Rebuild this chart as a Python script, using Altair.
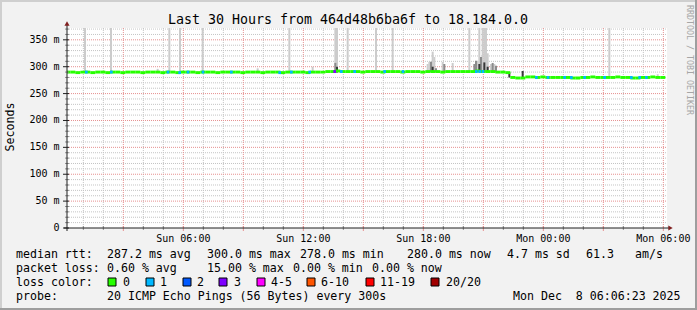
import altair as alt
import pandas as pd

# ----------------------------- data -----------------------------
TITLE = "Last 30 Hours from 464d48b6ba6f to 18.184.0.0"
Y_TITLE = "Seconds"
WATERMARK = "RRDTOOL / TOBI OETIKER"

# median RTT (ms), one value per 15-minute step; first step ends Sun 00:21, last ends Mon 06:06
median_ms = [
    290, 290, 289, 290, 290, 289, 290, 290, 289, 290,
    290, 289, 290, 290, 290, 289, 290, 290, 290, 289,
    290, 290, 289, 290, 290, 290, 289, 290, 290, 290,
    289, 290, 290, 290, 290, 289, 290, 290, 290, 289,
    290, 290, 290, 289, 290, 290, 290, 290, 289, 290,
    290, 290, 291, 291, 292, 291, 291, 291, 291, 290,
    291, 291, 291, 290, 291, 291, 291, 290, 291, 291,
    291, 290, 291, 291, 291, 290, 291, 291, 291, 291,
    291, 291, 292, 291, 291, 291, 290, 290, 289,
    280, 279, 279, 281, 281, 280, 281, 280, 280, 280,
    280, 280, 279, 279, 280, 280, 281, 280, 280, 280,
    280, 281, 280, 280, 279, 279, 280, 280, 281, 280, 280,
]

# 5-minute samples that lost pings: time, median at that moment (ms), pings lost of 20
loss_time = [
    "2025-12-07T01:05", "2025-12-07T02:20", "2025-12-07T05:10", "2025-12-07T05:45", "2025-12-07T06:10",
    "2025-12-07T06:55", "2025-12-07T08:20", "2025-12-07T10:45", "2025-12-07T11:20", "2025-12-07T12:15",
    "2025-12-07T13:30", "2025-12-07T13:50", "2025-12-07T14:30", "2025-12-07T16:00", "2025-12-07T16:55",
    "2025-12-07T20:35", "2025-12-07T20:45", "2025-12-07T20:55", "2025-12-07T23:35", "2025-12-08T00:10",
    "2025-12-08T01:00", "2025-12-08T01:20", "2025-12-08T02:00", "2025-12-08T03:00", "2025-12-08T04:20",
    "2025-12-08T04:45", "2025-12-08T05:05",
]
loss_ms = [
    290, 290, 290, 289, 290, 290, 290, 289, 290, 290,
    291, 291, 291, 291, 291, 291, 291, 291, 280, 280,
    280, 280, 280, 280, 280, 280, 280,
]
loss_pings = [
    1, 1, 1, 1, 1, 1, 1, 1, 1, 1,
    3, 1, 1, 1, 1, 1, 1, 1, 1, 1,
    1, 1, 1, 1, 1, 1, 1,
]

# smoke (spread of the 20 pings): time, low ms, high ms, density level (1 light .. 3 dark)
smoke_time = [
    "2025-12-07T01:02", "2025-12-07T02:20", "2025-12-07T04:40", "2025-12-07T05:15", "2025-12-07T05:47",
    "2025-12-07T06:55", "2025-12-07T09:40", "2025-12-07T11:15", "2025-12-07T12:25", "2025-12-07T13:33",
    "2025-12-07T13:38", "2025-12-07T13:33", "2025-12-07T13:38", "2025-12-07T14:10", "2025-12-07T15:35",
    "2025-12-07T16:25", "2025-12-07T18:10", "2025-12-07T18:15", "2025-12-07T18:20", "2025-12-07T18:25",
    "2025-12-07T18:25", "2025-12-07T18:30", "2025-12-07T18:35", "2025-12-07T18:55", "2025-12-07T19:00",
    "2025-12-07T19:25", "2025-12-07T20:15", "2025-12-07T20:30", "2025-12-07T20:35", "2025-12-07T20:40",
    "2025-12-07T20:45", "2025-12-07T20:45", "2025-12-07T20:50", "2025-12-07T20:55", "2025-12-07T21:00",
    "2025-12-07T21:00", "2025-12-07T21:05", "2025-12-07T21:10", "2025-12-07T21:10", "2025-12-07T21:20",
    "2025-12-07T21:25", "2025-12-07T21:30", "2025-12-07T21:35", "2025-12-07T22:15", "2025-12-07T22:55",
    "2025-12-08T03:15", "2025-12-08T05:40",
]
smoke_lo = [
    289, 289, 289, 289, 289, 289, 289, 289, 289, 289,
    289, 289, 289, 289, 290, 290, 290, 290, 290, 290,
    290, 290, 290, 290, 290, 290, 290, 290, 290, 290,
    290, 290, 290, 290, 290, 290, 290, 290, 290, 290,
    290, 290, 290, 280, 279, 280, 280,
]
smoke_hi = [
    372, 372, 296, 372, 372, 372, 297, 372, 300, 372,
    372, 307, 300, 372, 372, 372, 305, 309, 309, 328,
    300, 318, 297, 309, 305, 307, 372, 305, 311, 311,
    372, 305, 318, 372, 372, 308, 372, 325, 300, 305,
    307, 305, 302, 290, 292, 372, 286,
]
smoke_level = [
    1, 1, 1, 1, 1, 1, 1, 1, 1, 1,
    1, 2, 3, 1, 1, 1, 1, 1, 2, 1,
    3, 1, 2, 1, 2, 1, 1, 2, 2, 1,
    1, 3, 2, 1, 1, 3, 1, 1, 3, 1,
    2, 1, 2, 3, 3, 1, 1,
]

loss_labels = ["0", "1", "2", "3", "4-5", "6-10", "11-19", "20/20"]
y_label_values = [0, 50, 100, 150, 200, 250, 300, 350]
x_label_times = ["2025-12-07T06:00", "2025-12-07T12:00", "2025-12-07T18:00", "2025-12-08T00:00", "2025-12-08T06:00"]
x_label_texts = ["Sun 06:00", "Sun 12:00", "Sun 18:00", "Mon 00:00", "Mon 06:00"]

rtt_label = "median rtt:"
rtt_stats = ["287.2 ms avg", "300.0 ms max", "278.0 ms min", "280.0 ms now", "4.7 ms sd", "61.3", "am/s"]
loss_label = "packet loss:"
loss_stats = ["0.60 % avg", "15.00 % max", "0.00 % min", "0.00 % now"]
color_label = "loss color:"
probe_label = "probe:"
probe_text = "20 ICMP Echo Pings (56 Bytes) every 300s"
stamp_text = "Mon Dec\u00a0 8 06:06:23 2025"

# ----------------------------- style -----------------------------
MONO = "DejaVu Sans Mono"
LOSS_COLORS = ["#26ff00", "#00b8ff", "#0059ff", "#7e00ff", "#ff00ff", "#ff5500", "#ff0000", "#a10000"]
SMOKE_COLORS = {1: "#cccccc", 2: "#8c8c8c", 3: "#383838"}
GRID = "#c4c4c4"
MGRID = "#e69090"
AXIS = "#1f1f1f"
ARROW = "#801f1f"
BACK = "#f2f2f2"

PX, PY = 67, 28      # plot origin inside the page
W, H = 600, 200
HALF = 2.7           # half thickness of the median line, in ms


def iso(t):
    return pd.Timestamp(t).strftime("%Y-%m-%dT%H:%M:%SZ")


def loss_cat(n):
    if n <= 3:
        return str(n)
    if n <= 5:
        return "4-5"
    if n <= 10:
        return "6-10"
    if n < 20:
        return "11-19"
    return "20/20"


step0 = pd.Timestamp("2025-12-07 00:06")
med = pd.DataFrame({
    "t0": [iso(step0 + pd.Timedelta(minutes=15 * k)) for k in range(len(median_ms))],
    "t1": [iso(step0 + pd.Timedelta(minutes=15 * (k + 1))) for k in range(len(median_ms))],
    "m": median_ms,
    "loss": ["0"] * len(median_ms),
})
lossdf = pd.DataFrame({
    "t0": [iso(t) for t in loss_time],
    "t1": [iso(pd.Timestamp(t) + pd.Timedelta(minutes=8)) for t in loss_time],
    "m": loss_ms,
    "loss": [loss_cat(p) for p in loss_pings],
})

smoke = pd.DataFrame({
    "t0": [iso(t) for t in smoke_time],
    "t1": [iso(pd.Timestamp(t) + pd.Timedelta(minutes=6)) for t in smoke_time],
    "lo": smoke_lo, "hi": smoke_hi, "level": smoke_level,
})

hours = pd.date_range("2025-12-07 01:00", "2025-12-08 06:00", freq="h")
vgrid = pd.DataFrame({"t": [iso(h) for h in hours], "major": [h.hour % 3 == 0 for h in hours]})
hvals = list(range(10, 371, 10))
hgrid = pd.DataFrame({"v": hvals, "major": [v % 50 == 0 for v in hvals]})

ylab = pd.DataFrame({"v": y_label_values,
                     "label": ["0" if v == 0 else f"{v} m" for v in y_label_values]})
xlab = pd.DataFrame({"t": [iso(t) for t in x_label_times], "label": x_label_texts})

x_scale = alt.Scale(type="utc", domain=[
    alt.DateTime(year=2025, month=12, date=7, hours=0, minutes=11, utc=True),
    alt.DateTime(year=2025, month=12, date=8, hours=6, minutes=11, utc=True)])
y_scale = alt.Scale(domain=[0, 372], nice=False, zero=False)
loss_scale = alt.Scale(domain=loss_labels, range=LOSS_COLORS)

X = lambda f: alt.X(f, scale=x_scale, axis=None)
Y = lambda f: alt.Y(f, scale=y_scale, axis=None)

one = alt.Data(values=[{}])

# grid
g_vmin = alt.Chart(vgrid[~vgrid.major]).mark_rule(color=GRID, strokeDash=[1, 1]).encode(
    x=X("t:T"), y=alt.value(0), y2=alt.value(H))
g_vmaj = alt.Chart(vgrid[vgrid.major]).mark_rule(color=MGRID, strokeDash=[1, 1]).encode(
    x=X("t:T"), y=alt.value(0), y2=alt.value(H))
g_hmin = alt.Chart(hgrid[~hgrid.major]).mark_rule(color=GRID, strokeDash=[1, 1]).encode(
    y=Y("v:Q"), x=alt.value(0), x2=alt.value(W))
g_hmaj = alt.Chart(hgrid[hgrid.major]).mark_rule(color=MGRID, strokeDash=[1, 1]).encode(
    y=Y("v:Q"), x=alt.value(0), x2=alt.value(W))

# axis ticks
t_hmin = alt.Chart(hgrid[~hgrid.major]).mark_rule(color="#8f8f8f").encode(
    y=Y("v:Q"), x=alt.value(-2), x2=alt.value(2))
t_hmaj = alt.Chart(ylab).mark_rule(color=AXIS).encode(
    y=Y("v:Q"), x=alt.value(-4), x2=alt.value(2))
t_vmin = alt.Chart(vgrid[~vgrid.major]).mark_rule(color="#8f8f8f").encode(
    x=X("t:T"), y=alt.value(H - 2), y2=alt.value(H + 2))
t_vmaj = alt.Chart(vgrid[vgrid.major]).mark_rule(color=MGRID).encode(
    x=X("t:T"), y=alt.value(H - 2), y2=alt.value(H + 3))

# axis labels
y_labels = alt.Chart(ylab).mark_text(font=MONO, fontSize=10, align="right", baseline="middle", color="black").encode(
    y=Y("v:Q"), x=alt.value(-7.5), text="label:N")
x_labels = alt.Chart(xlab).mark_text(font=MONO, fontSize=10, align="center", baseline="alphabetic", color="black").encode(
    x=X("t:T"), y=alt.value(241.5 - PY), text="label:N")

# smoke, one layer per density level
smoke_layers = [
    alt.Chart(smoke[smoke.level == lv]).mark_rect(clip=True, color=col).encode(
        x=X("t0:T"), x2="t1:T", y=Y("lo:Q"), y2="hi:Q")
    for lv, col in SMOKE_COLORS.items()
]


# median line coloured by loss
def line_layer(df):
    return alt.Chart(df).transform_calculate(
        lo=f"datum.m - {HALF}", hi=f"datum.m + {HALF}").mark_rect(clip=True).encode(
        x=X("t0:T"), x2="t1:T", y=Y("lo:Q"), y2="hi:Q",
        color=alt.Color("loss:N", scale=loss_scale, legend=None))


med_layer = line_layer(med)
loss_layer = line_layer(lossdf)

# axes lines and arrows
y_line = alt.Chart(one).mark_rule(color=AXIS).encode(x=alt.value(0), y=alt.value(-3), y2=alt.value(H + 3))
x_line = alt.Chart(one).mark_rule(color=AXIS).encode(y=alt.value(H), x=alt.value(-3), x2=alt.value(W + 2))
y_arrow = alt.Chart(one).mark_point(shape="triangle-up", filled=True, size=26, color=ARROW, opacity=1).encode(
    x=alt.value(0), y=alt.value(-4.5))
x_arrow = alt.Chart(one).mark_point(shape="triangle-right", filled=True, size=26, color=ARROW, opacity=1).encode(
    x=alt.value(W + 3.5), y=alt.value(H))


def band(x0, x1, y0, y1, color, **kw):
    return alt.Chart(one).mark_rect(color=color, **kw).encode(
        x=alt.value(x0 - PX), x2=alt.value(x1 - PX), y=alt.value(y0 - PY), y2=alt.value(y1 - PY))


frame = [band(0, 697, 0, 2, "#cfcfcf"), band(0, 2, 0, 310, "#cfcfcf"),
         band(695, 697, 0, 310, "#9e9e9e"), band(0, 697, 308, 310, "#9e9e9e")]


def text_at(s, x, y, size=11.6, **kw):
    return alt.Chart(one).mark_text(font=MONO, fontSize=size, **kw).encode(
        x=alt.value(x - PX), y=alt.value(y - PY), text=alt.value(s))


r1, r2, r3, r4 = 258.3, 272.3, 286.3, 300.3
legend_items = [(rtt_label, 16, r1)]
legend_items += list(zip(rtt_stats, [107, 207, 300, 407, 507, 586, 635], [r1] * 7))
legend_items += [(loss_label, 16, r2)]
legend_items += list(zip(loss_stats, [107, 207, 293, 372], [r2] * 4))
legend_items += [(color_label, 16, r3)]
legend_items += list(zip(loss_labels, [123, 160, 197, 234, 271, 321, 380, 446], [r3] * 8))
legend_items += [(probe_label, 16, r4), (probe_text, 107, r4), (stamp_text, 513, r4)]

texts = [text_at(s, x, y, align="left", baseline="alphabetic", color="black") for s, x, y in legend_items]
texts.append(text_at(TITLE, 348, 24.3, size=13.3, align="center", baseline="alphabetic", color="black"))
texts.append(text_at(Y_TITLE, 11, 127, align="center", baseline="middle", angle=270, color="black"))
texts.append(text_at(WATERMARK, 688.5, 60, size=8.3, align="center", baseline="middle", angle=90, color="#a6a6a6"))

boxes = [band(bx, bx + 8, 278, 286, col, stroke="black", strokeWidth=1)
         for bx, col in zip([108, 146, 183, 219, 257, 307, 366, 431], LOSS_COLORS)]

chart = alt.layer(
    g_vmin, g_hmin, g_vmaj, g_hmaj, *smoke_layers, med_layer, loss_layer,
    t_hmin, t_hmaj, t_vmin, t_vmaj, y_line, x_line, y_arrow, x_arrow,
    y_labels, x_labels, *frame, *texts, *boxes,
).properties(
    width=W, height=H,
    padding={"left": PX, "top": PY, "right": 697 - PX - W, "bottom": 310 - PY - H},
    autosize=alt.AutoSizeParams(type="none"),
    background=BACK,
).configure_view(fill="white", strokeWidth=0)

chart.save("out.html", embed_options={"renderer": "svg", "actions": False})
